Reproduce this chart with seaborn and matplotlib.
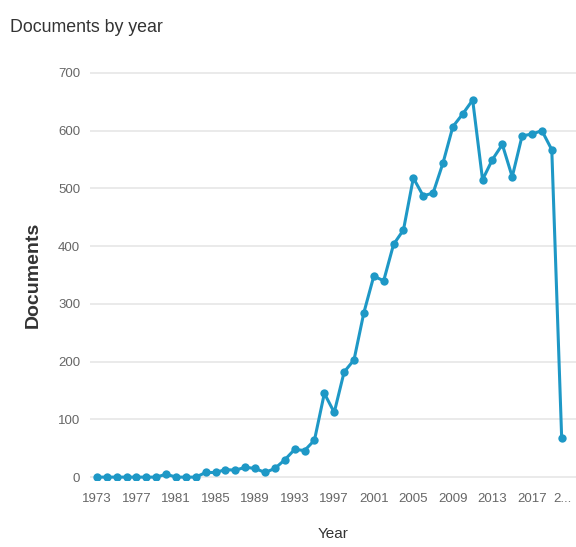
import matplotlib
matplotlib.use("Agg")
import matplotlib.pyplot as plt
import seaborn as sns
import pandas as pd

# data
years = list(range(1973, 2021))
documents = [0, 0, 0, 0, 0, 0, 0, 5, 0, 0, 0, 8, 8, 13, 12, 17, 15, 8, 15, 30,
             48, 46, 64, 145, 112, 182, 203, 285, 348, 340, 403, 428, 518, 487,
             492, 544, 607, 629, 653, 515, 550, 576, 520, 591, 594, 600, 567, 68]
tick_years = [1973, 1977, 1981, 1985, 1989, 1993, 1997, 2001, 2005, 2009, 2013, 2017, 2021]
tick_labels = [str(y) for y in tick_years[:-1]] + ["2..."]
y_ticks = [0, 100, 200, 300, 400, 500, 600, 700]

df = pd.DataFrame({"Year": years, "Documents": documents})

sns.set_style("white")
plt.rcParams["font.family"] = ["Liberation Sans", "DejaVu Sans"]

fig = plt.figure(figsize=(5.76, 5.47), dpi=100)
ax = fig.add_axes([90 / 576, 1 - 480 / 547, 486 / 576, 410 / 547])

line_color = "#1e98c6"
sns.lineplot(data=df, x="Year", y="Documents", ax=ax, color=line_color,
             linewidth=2.2, marker="o", markersize=6, markeredgewidth=0)

ax.set_xlim(1972.3, 2021.45)
ax.set_ylim(-5, 705)
ax.set_xticks(tick_years)
ax.set_xticklabels(tick_labels)
ax.get_xticklabels()[-1].set_ha("right")
ax.set_yticks(y_ticks)
ax.grid(axis="y", color="#e6e6e6", linewidth=1.2)
ax.set_axisbelow(True)
for s in ax.spines.values():
    s.set_visible(False)
ax.tick_params(axis="both", length=0, labelsize=9.5, labelcolor="#666666")
ax.tick_params(axis="x", pad=9)
ax.tick_params(axis="y", pad=7)

ax.set_xlabel("Year", fontsize=11, color="#333333", labelpad=16)
ax.set_ylabel("Documents", fontsize=14, color="#333333", fontweight="bold", labelpad=12)

fig.text(10 / 576, 1 - 28 / 547, "Documents by year", fontsize=12.8,
         color="#333333", va="center", ha="left")

fig.savefig("out.png", dpi=100)
